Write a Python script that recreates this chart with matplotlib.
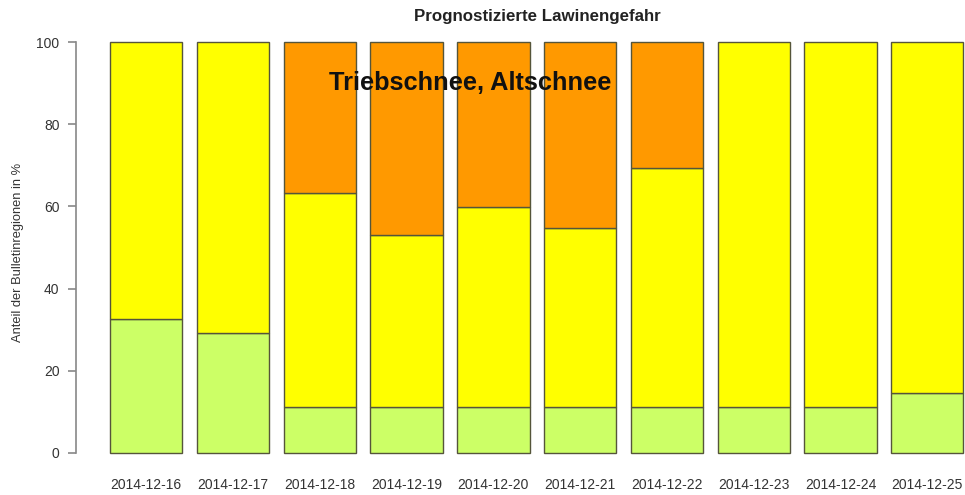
import numpy as np
import matplotlib.pyplot as plt

plt.rcParams['font.family'] = ['Liberation Sans', 'DejaVu Sans']

dates = ['2014-12-16', '2014-12-17', '2014-12-18', '2014-12-19', '2014-12-20',
         '2014-12-21', '2014-12-22', '2014-12-23', '2014-12-24', '2014-12-25']
gering = [32.6, 29.2, 11.1, 11.1, 11.1, 11.1, 11.1, 11.1, 11.1, 14.5]
maessig = [67.4, 70.8, 52.1, 41.9, 48.8, 43.6, 58.2, 88.9, 88.9, 85.5]
erheblich = [0.0, 0.0, 36.8, 47.0, 40.1, 45.3, 30.7, 0.0, 0.0, 0.0]

colors = ['#CCFF66', '#FFFF00', '#FF9900']
edge = '#55553a'

fig = plt.figure(figsize=(9.65, 4.95), dpi=100)
ax = fig.add_axes([76/965, 25.6/495, 889/965, 443.8/495])

x = np.arange(len(dates))
w = 1/1.2
g = np.array(gering)
m = np.array(maessig)
e = np.array(erheblich)
ax.bar(x, g, width=w, color=colors[0], edgecolor=edge, linewidth=1)
ax.bar(x, m, width=w, bottom=g, color=colors[1], edgecolor=edge, linewidth=1)
mask = e > 0
ax.bar(x[mask], e[mask], width=w, bottom=(g+m)[mask], color=colors[2],
       edgecolor=edge, linewidth=1)

ax.set_xlim(-0.81, 9.435)
ax.set_ylim(-4, 104)

for s in ['top', 'right', 'bottom']:
    ax.spines[s].set_visible(False)
ax.spines['left'].set_bounds(0, 100)
ax.spines['left'].set_color('#888888')
ax.spines['left'].set_linewidth(1.2)

ax.set_yticks([0, 20, 40, 60, 80, 100])
ax.tick_params(axis='y', length=5.8, width=1.2, color='#888888', pad=6,
               labelsize=10, labelcolor='#333333')
ax.set_xticks(x)
ax.set_xticklabels(dates)
ax.tick_params(axis='x', length=0, pad=6, labelsize=10, labelcolor='#333333')

ax.set_ylabel('Anteil der Bulletinregionen in %', fontsize=9.3, color='#333333')
ax.yaxis.set_label_coords(-52/889, (469.4-252)/443.8)

fig.text(537/965, 1-17/495, 'Prognostizierte Lawinengefahr', ha='center', va='center',
         fontsize=12.2, fontweight='bold', color='#222222')
ax.text(3.73, 90, 'Triebschnee, Altschnee', ha='center', va='center',
        fontsize=18.3, fontweight='bold', color='#111111')

plt.savefig('out.png', dpi=100)
